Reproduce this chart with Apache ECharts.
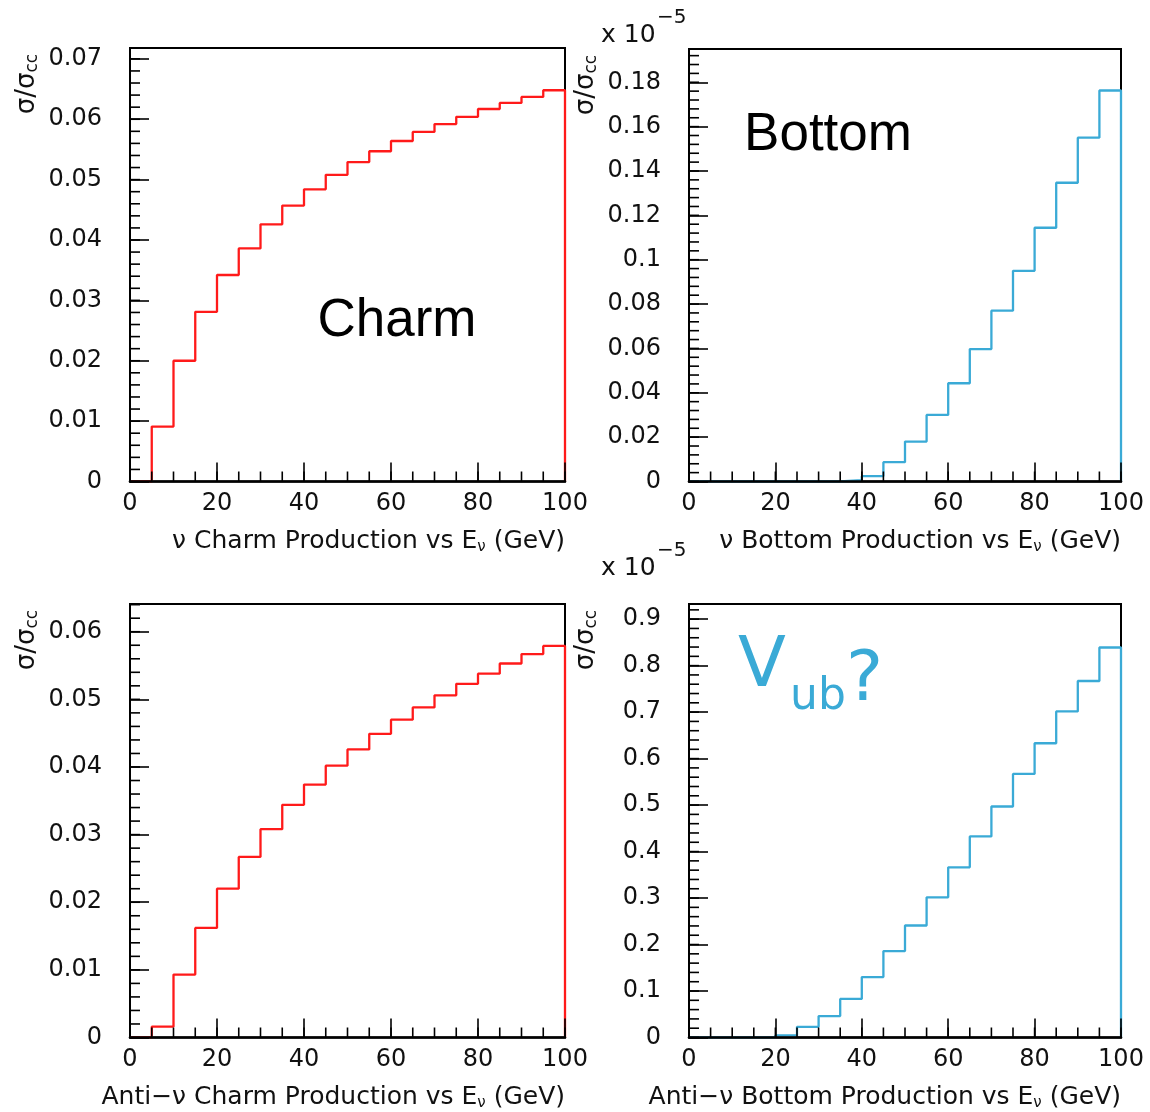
<!DOCTYPE html>
<html><head><meta charset="utf-8">
<script src="https://cdn.jsdelivr.net/npm/echarts@6/dist/echarts.min.js"></script>
<style>html,body{margin:0;padding:0;background:#fff}#c{width:1150px;height:1112px}</style>
</head><body><div id="c"></div>
<script>
// ---- data ----
const binEdges = [0,5,10,15,20,25,30,35,40,45,50,55,60,65,70,75,80,85,90,95,100];
const nuCharm = [0,0.0091,0.0200,0.0281,0.0342,0.0386,0.0426,0.0457,0.0484,0.0508,0.0529,0.0547,0.0564,0.0579,0.0592,0.0604,0.0617,0.0627,0.0637,0.0648];
const nuBottom = [0,0,0,0,0,0,0,0.0006,0.0024,0.0087,0.0180,0.0300,0.0443,0.0597,0.0770,0.0950,0.1144,0.1347,0.1550,0.1763];
const antiNuCharm = [0,0.0016,0.0093,0.0162,0.0220,0.0267,0.0308,0.0344,0.0374,0.0402,0.0426,0.0449,0.0470,0.0488,0.0506,0.0523,0.0538,0.0553,0.0567,0.0579];
const antiNuBottom = [0,0,0,0,0.0045,0.023,0.046,0.083,0.130,0.186,0.241,0.3015,0.366,0.4326,0.497,0.567,0.633,0.7015,0.767,0.839];
const yMaxes = [0.0718, 0.195, 0.0641, 0.9326];
const yMajor = [0.01, 0.02, 0.01, 0.1];
const yMinor = [0.002, 0.004, 0.002, 0.02];
const xMajor = 20, xMinor = 5;
const xTitles = [
  'ν Charm Production vs E{sub|ν} (GeV)',
  'ν Bottom Production vs E{sub|ν} (GeV)',
  'Anti−ν Charm Production vs E{sub|ν} (GeV)',
  'Anti−ν Bottom Production vs E{sub|ν} (GeV)'
];
const yTitle = 'σ/σ{sub|cc}';
const panelTexts = ['Charm', 'Bottom'];
const RED = '#ff1a1a', CYAN = '#3aaad6';
const seriesValues = [nuCharm, nuBottom, antiNuCharm, antiNuBottom];
const seriesColors = [RED, CYAN, RED, CYAN];

// ---- layout ----
const grids = [
  {left:130, top:48, width:435, height:433.5},
  {left:689, top:49, width:432, height:432.5},
  {left:130, top:604, width:435, height:433.5},
  {left:689, top:604, width:432, height:433.5}
];
const FONT = 'DejaVu Sans';
const MINOR_LEN = 10;

function histData(vals){
  const d = vals.map((v,i)=>[binEdges[i], v]);
  d.push([binEdges[binEdges.length-1], vals[vals.length-1]]);
  d.push([binEdges[binEdges.length-1], 0]);
  return d;
}
function steps(max, step){
  const out = [];
  for (let k=0; k*step <= max*(1+1e-9); k++) out.push(+(k*step).toPrecision(10));
  return out;
}

const xAxis = grids.map((g,i)=>({
  type:'value', gridIndex:i, position:'bottom', min:0, max:100, interval:xMajor, z:5,
  axisLine:{show:true, onZero:false, lineStyle:{color:'#000', width:2.6}},
  axisTick:{show:true, inside:true, length:19, lineStyle:{color:'#000', width:1.6}},
  minorTick:{show:false},
  axisLabel:{fontFamily:FONT, fontSize:24, color:'#111', margin:10},
  splitLine:{show:false}
}));
const yAxis = grids.map((g,i)=>({
  type:'value', gridIndex:i, position:'left', min:0, max:yMaxes[i], interval:yMajor[i], z:5,
  axisLine:{show:true, onZero:false, lineStyle:{color:'#000', width:2}},
  axisTick:{show:true, inside:true, length:19, lineStyle:{color:'#000', width:1.6}},
  minorTick:{show:false},
  axisLabel:{fontFamily:FONT, fontSize:24, color:'#111', margin:28, showMaxLabel:false},
  splitLine:{show:false}
}));

const series = [];
seriesValues.forEach((vals,i)=>{
  series.push({
    type:'line', xAxisIndex:i, yAxisIndex:i, step:'end', showSymbol:false, symbol:'none',
    data:histData(vals), lineStyle:{color:seriesColors[i], width:2.3}, itemStyle:{color:seriesColors[i]},
    animation:false, z:2
  });
  // minor ticks on the y axis (drawn inward from the axis line)
  series.push({
    type:'custom', xAxisIndex:i, yAxisIndex:i, clip:false, silent:true, z:6, animation:false,
    data: steps(yMaxes[i], yMinor[i]).map(v=>[0, v]),
    renderItem:(params, api)=>{
      const p = api.coord([0, api.value(1)]);
      return {type:'line', shape:{x1:p[0], y1:p[1], x2:p[0]+MINOR_LEN, y2:p[1]}, style:{stroke:'#000', lineWidth:1.6}};
    }
  });
  // minor ticks on the x axis
  series.push({
    type:'custom', xAxisIndex:i, yAxisIndex:i, clip:false, silent:true, z:6, animation:false,
    data: steps(100, xMinor).map(v=>[v, 0]),
    renderItem:(params, api)=>{
      const p = api.coord([api.value(0), 0]);
      return {type:'line', shape:{x1:p[0], y1:p[1], x2:p[0], y2:p[1]-MINOR_LEN}, style:{stroke:'#000', lineWidth:1.6}};
    }
  });
});

const graphic = [];
grids.forEach((g,i)=>{
  graphic.push({type:'text', x:g.left+g.width, y:g.top+g.height+60,
    style:{text:xTitles[i], fontFamily:FONT, fontSize:25, fill:'#111', align:'right', verticalAlign:'middle',
      rich:{sub:{fontFamily:FONT, fontSize:15, padding:[11,0,0,0], verticalAlign:'bottom', fill:'#111'}}}});
  graphic.push({type:'text', x:(i%2===0?27:586), y:g.top+36, rotation:Math.PI/2,
    style:{text:yTitle, fontFamily:FONT, fontSize:26, fill:'#111', align:'center', verticalAlign:'middle',
      rich:{sub:{fontFamily:FONT, fontSize:17, padding:[11,0,0,0], verticalAlign:'bottom', fill:'#111'}}}});
});
// exponent labels
[[35,18],[568,551]].forEach(p=>{
  graphic.push({type:'text', x:601, y:p[0], style:{text:'x 10', fontFamily:FONT, fontSize:25, fill:'#111', align:'left', verticalAlign:'middle'}});
  graphic.push({type:'text', x:657, y:p[1], style:{text:'−5', fontFamily:FONT, fontSize:20, fill:'#111', align:'left', verticalAlign:'middle'}});
});
graphic.push({type:'text', x:397, y:321, style:{text:panelTexts[0], fontFamily:'Liberation Sans', fontSize:53, fill:'#000', align:'center', verticalAlign:'middle'}});
graphic.push({type:'text', x:828, y:135, style:{text:panelTexts[1], fontFamily:'Liberation Sans', fontSize:53, fill:'#000', align:'center', verticalAlign:'middle'}});
// handwritten note
graphic.push({type:'text', x:738, y:668, style:{text:'V', fontFamily:'DejaVu Sans', fontSize:70, fill:CYAN, align:'left', verticalAlign:'middle'}});
graphic.push({type:'text', x:790, y:698, style:{text:'ub', fontFamily:'DejaVu Sans', fontSize:44, fill:CYAN, align:'left', verticalAlign:'middle'}});
graphic.push({type:'text', x:846, y:682, style:{text:'?', fontFamily:'DejaVu Sans', fontSize:70, fill:CYAN, align:'left', verticalAlign:'middle'}});

const chart = echarts.init(document.getElementById('c'), null, {renderer:'canvas'});
chart.setOption({
  animation:false,
  backgroundColor:'#fff',
  grid: grids.map(g=>Object.assign({show:true, borderColor:'#000', borderWidth:2, backgroundColor:'transparent', containLabel:false}, g)),
  xAxis, yAxis, series, graphic
});
</script></body></html>
